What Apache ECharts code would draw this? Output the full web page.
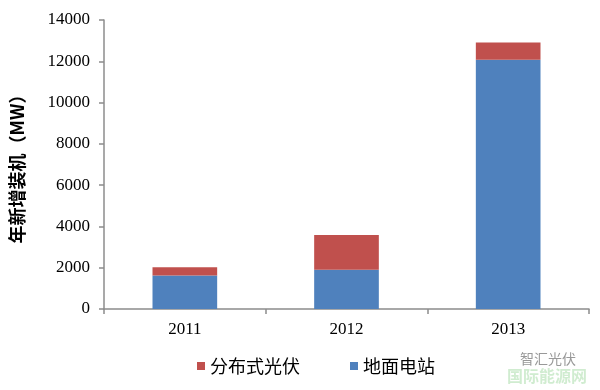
<!DOCTYPE html>
<html><head><meta charset="utf-8">
<script src="https://cdn.jsdelivr.net/npm/echarts@6/dist/echarts.min.js"></script>
<style>html,body{margin:0;padding:0;background:#fff}#c{width:600px;height:390px}</style>
</head><body><div id="c"></div>
<script>
const categories = ['2011', '2012', '2013'];
const groundValues = [1620, 1900, 12070];
const distributedValues = [400, 1680, 840];
const yTicks = { min: 0, max: 14000, interval: 2000 };

const chart = echarts.init(document.getElementById('c'), null, { renderer: 'canvas' });
chart.setOption({
  animation: false,
  backgroundColor: '#fff',
  grid: { left: 103, right: 11, top: 20, bottom: 81 },
  legend: {
    data: ['分布式光伏', '地面电站'],
    bottom: 10, left: 192,
    itemWidth: 8, itemHeight: 8, itemGap: 50,
    icon: 'rect',
    textStyle: { fontFamily: 'Noto Sans CJK SC', fontSize: 18, color: '#000' }
  },
  xAxis: {
    type: 'category', data: categories,
    axisLine: { lineStyle: { color: '#8c8c8c', width: 1.5 } },
    axisTick: { show: true, length: 5, lineStyle: { color: '#8c8c8c', width: 1.5 } },
    axisLabel: { fontFamily: 'Liberation Serif', fontSize: 17, color: '#000', margin: 12 }
  },
  yAxis: {
    type: 'value', min: yTicks.min, max: yTicks.max, interval: yTicks.interval,
    name: '年新增装机（MW）', nameLocation: 'middle', nameGap: 78, nameRotate: 90,
    nameTextStyle: { fontFamily: 'Noto Sans CJK SC', fontWeight: 'bold', fontSize: 18, color: '#000' },
    axisLine: { show: true, lineStyle: { color: '#8c8c8c', width: 1.5 } },
    axisTick: { show: true, length: 5, lineStyle: { color: '#8c8c8c', width: 1.5 } },
    splitLine: { show: false },
    axisLabel: { fontFamily: 'Liberation Serif', fontSize: 17, color: '#000', margin: 14,
      formatter: v => String(v) }
  },
  series: [
    { name: '地面电站', type: 'bar', stack: 'a', data: groundValues, barWidth: '40%',
      itemStyle: { color: '#4F81BD' } },
    { name: '分布式光伏', type: 'bar', stack: 'a', data: distributedValues, barWidth: '40%',
      itemStyle: { color: '#C0504D' } }
  ],
  graphic: [
    { type: 'text', left: 520, top: 352, style: { text: '智汇光伏', font: '14px "Noto Sans CJK SC"', fill: '#999' } },
    { type: 'text', left: 507, top: 368, style: { text: '国际能源网', font: 'bold 16px "Noto Sans CJK SC"', fill: 'rgba(120,200,120,0.35)' } }
  ]
});
</script></body></html>
